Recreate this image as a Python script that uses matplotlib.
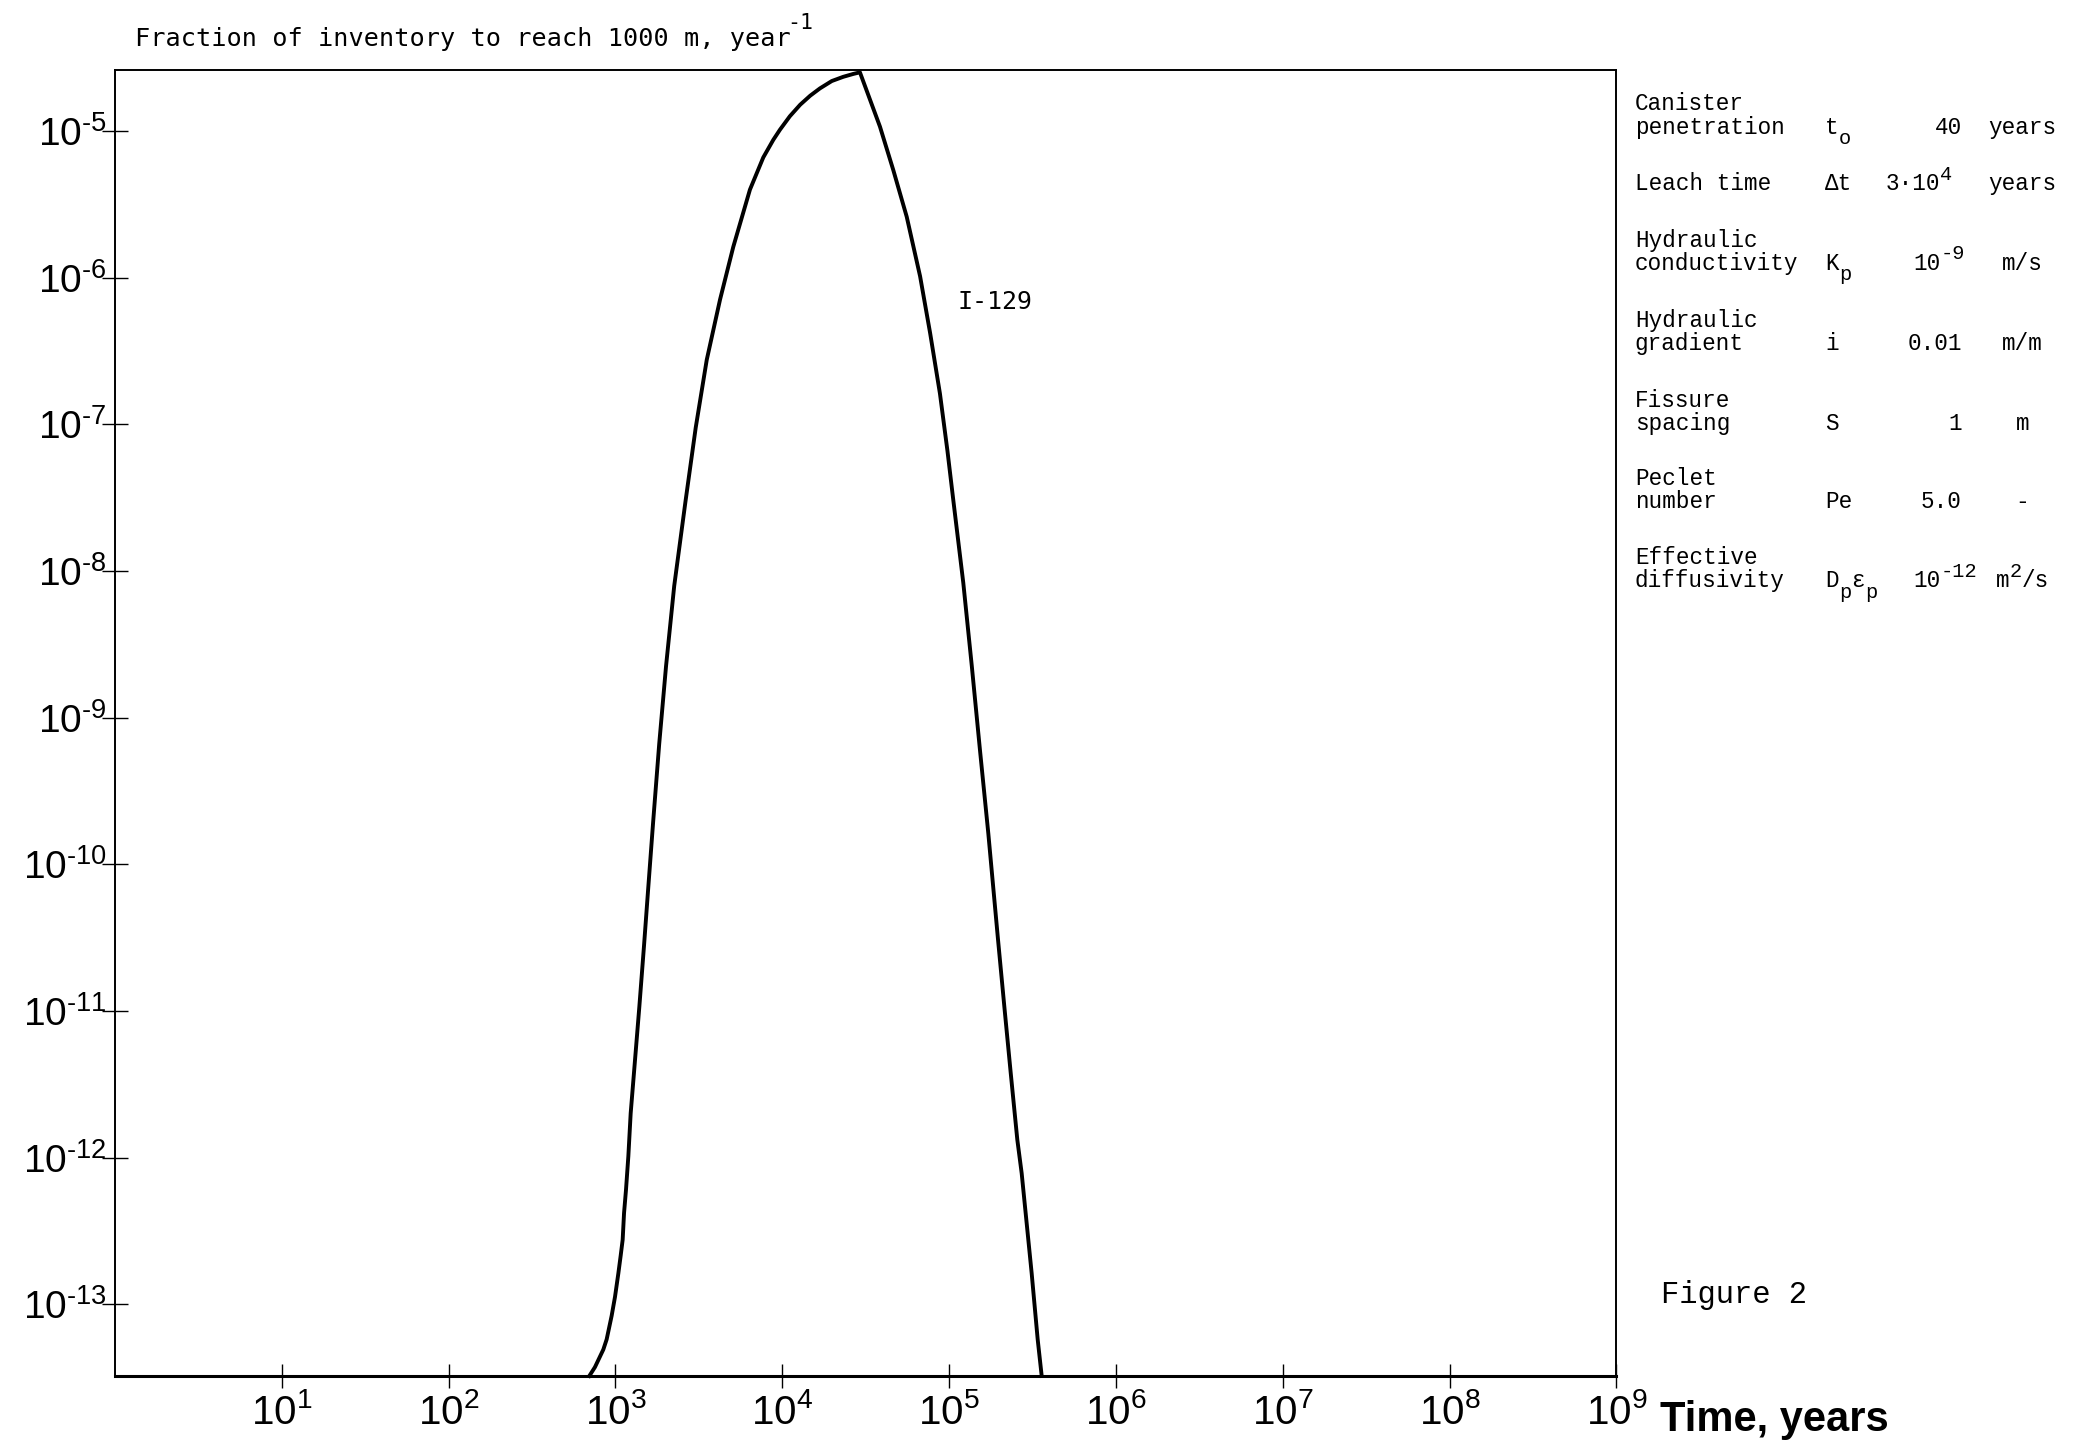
import re
import numpy as np
import matplotlib.pyplot as plt

# I-129 release rate
t_rise = [697, 753, 845, 885, 948, 993, 1040, 1074, 1104, 1125, 1156, 1194, 1233,
          1291, 1390, 1483, 1567, 1679, 1828, 2009, 2249, 2630, 3027, 3524, 4236,
          5082, 6397, 7691, 8831, 9683, 11100, 12800, 14700, 16800, 19800, 23200,
          26700, 29200]
f_rise = [3.24e-14, 3.72e-14, 4.9e-14, 5.75e-14, 8.32e-14, 1.12e-13, 1.62e-13,
          2.14e-13, 2.75e-13, 4.17e-13, 6.03e-13, 1.02e-12, 2.0e-12, 3.8e-12,
          1.07e-11, 2.8e-11, 6.6e-11, 1.9e-10, 6.6e-10, 2.24e-9, 7.9e-9, 3.0e-8,
          9.5e-8, 2.75e-7, 7.1e-7, 1.62e-6, 3.98e-6, 6.6e-6, 8.7e-6, 1.02e-5,
          1.26e-5, 1.51e-5, 1.74e-5, 1.95e-5, 2.19e-5, 2.34e-5, 2.45e-5, 2.51e-5]
t_fall = [38500, 46300, 55700, 67000, 76900, 88100, 97700, 105900, 121600, 136800,
          153100, 171800, 195900, 214300, 233900, 256400, 272300, 312600, 339600,
          358900]
f_fall = [1.07e-5, 5.4e-6, 2.6e-6, 1.02e-6, 4.2e-7, 1.62e-7, 6.6e-8, 3.05e-8, 8.3e-9,
          2.24e-9, 6.0e-10, 1.62e-10, 3.16e-11, 1.07e-11, 3.8e-12, 1.32e-12, 7.8e-13,
          1.62e-13, 5.75e-14, 3.24e-14]

x_exp = [1, 2, 3, 4, 5, 6, 7, 8, 9]
y_exp = [-5, -6, -7, -8, -9, -10, -11, -12, -13]

# parameter table
p_names = [["Canister", "penetration"], ["Leach time"], ["Hydraulic", "conductivity"],
           ["Hydraulic", "gradient"], ["Fissure", "spacing"], ["Peclet", "number"],
           ["Effective", "diffusivity"]]
p_symbols = ["t_{o}", "Δt", "K_{p}", "i", "S", "Pe", "D_{p}ε_{p}"]
p_values = ["40", "3·10^{4}", "10^{-9}", "0.01", "1", "5.0", "10^{-12}"]
p_units = ["years", "years", "m/s", "m/m", "m", "-", "m^{2}/s"]

plt.rcParams['mathtext.fontset'] = 'custom'
plt.rcParams['mathtext.rm'] = 'Liberation Sans'
plt.rcParams['mathtext.it'] = 'Liberation Sans'

fig = plt.figure(figsize=(20.74, 14.43), dpi=100)
W, H = 1568.0, 1091.0   # layout measured on a 1568 px wide copy


def adv(size):
    # monospace advance in layout px
    return 0.6 * size / 0.72 / 1.3227


def rich(x, y, s, size, family='Liberation Mono', ha='left', small=0.9, shift=8):
    segs = []
    for sup, sub, plain in re.findall(r'\^\{([^}]*)\}|_\{([^}]*)\}|([^\^_]+)', s):
        if sup:
            segs.append((sup, size * small, -shift))
        elif sub:
            segs.append((sub, size * small, shift))
        else:
            segs.append((plain, size, 0))
    total = sum(len(t) * adv(sz) for t, sz, _ in segs)
    if ha == 'right':
        x -= total
    elif ha == 'center':
        x -= total / 2
    for t, sz, dy in segs:
        fig.text(x / W, 1 - (y + dy) / H, t, fontsize=sz, family=family, va='baseline')
        x += len(t) * adv(sz)


ax = fig.add_axes([87 / W, 1 - 1040 / H, (1222 - 87) / W, (1040 - 53) / H])
ax.plot(t_rise + t_fall, f_rise + f_fall, color='black', lw=2.8,
        solid_joinstyle='round', clip_on=False)
ax.set_xscale('log')
ax.set_yscale('log')
ax.set_xlim(1, 1e9)
ax.set_ylim(3.26e-14, 2.6e-5)

ax.set_xticks([10.0 ** e for e in x_exp])
ax.set_xticklabels([r'$\mathrm{10^{%d}}$' % e for e in x_exp])
ax.set_yticks([10.0 ** e for e in y_exp])
# short hyphen in the exponent, as on the original
ax.set_yticklabels(['$\\mathrm{10^{\u2010%d}}$' % -e for e in y_exp])
ax.minorticks_off()
ax.tick_params(axis='x', direction='inout', length=17, width=1.0, pad=4, labelsize=29)
ax.tick_params(axis='y', direction='inout', length=19, width=1.0, pad=-3.5, labelsize=28)
for side in ['left', 'top', 'right']:
    ax.spines[side].set_linewidth(1.4)
ax.spines['bottom'].set_linewidth(2.2)

fig.text(1255 / W, 1 - 1082 / H, "Time, years", fontsize=30, family='Liberation Sans',
         fontweight='bold', va='baseline')

rich(102, 35, "Fraction of inventory to reach 1000 m, year^{-1}", 18.2,
     family='DejaVu Sans Mono', small=0.85, shift=13)
rich(724, 234, "I-129", 18, family='DejaVu Sans Mono')

row_y = [97, 140, 200, 261, 321, 380, 440]
for names, sym, val, unit, y in zip(p_names, p_symbols, p_values, p_units, row_y):
    yb = y + 4
    for k, line in enumerate(names):
        rich(1236, yb - 17.5 * (len(names) - 1 - k), line, 16.3)
    rich(1380, yb, sym, 16.3)
    if '^' in val:
        base = val.split('^')[0]
        rich(1467 - len(base) * adv(16.3), yb, val, 16.3)
    else:
        rich(1483, yb, val, 16.3, ha='right')
    rich(1529, yb, unit, 16.3, ha='center')

rich(1256, 985, "Figure 2", 22)

fig.savefig("out.png", dpi=100)
